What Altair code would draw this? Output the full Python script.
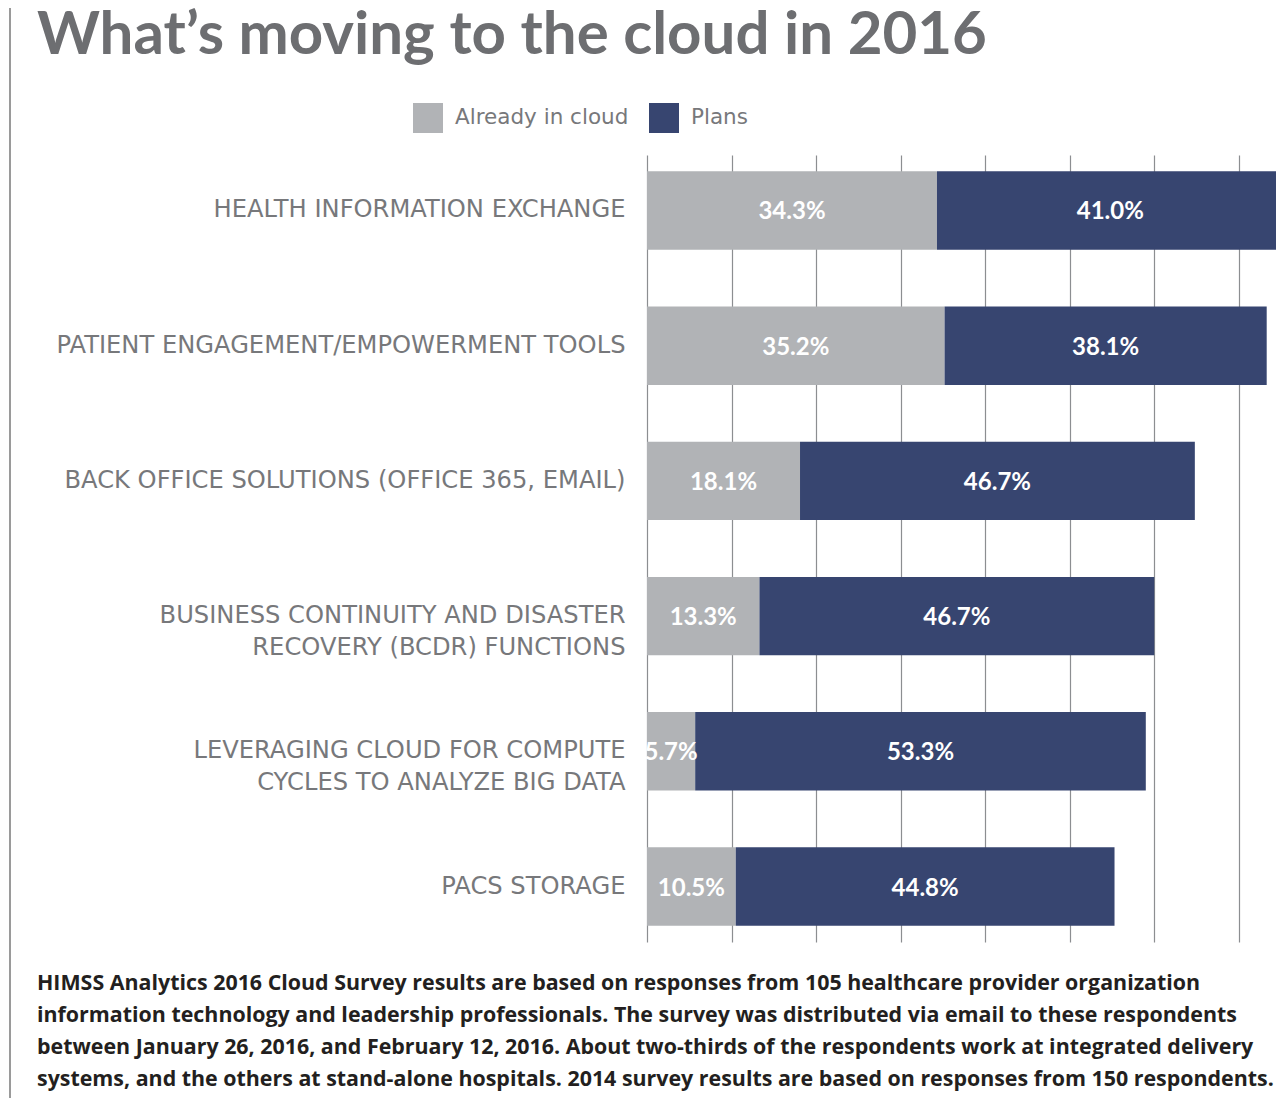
import altair as alt
import pandas as pd

categories = [
    "HEALTH INFORMATION EXCHANGE",
    "PATIENT ENGAGEMENT/EMPOWERMENT TOOLS",
    "BACK OFFICE SOLUTIONS (OFFICE 365, EMAIL)",
    "BUSINESS CONTINUITY AND DISASTER|RECOVERY (BCDR) FUNCTIONS",
    "LEVERAGING CLOUD FOR COMPUTE|CYCLES TO ANALYZE BIG DATA",
    "PACS STORAGE",
]
already = [34.3, 35.2, 18.1, 13.3, 5.7, 10.5]
plans = [41.0, 38.1, 46.7, 46.7, 53.3, 44.8]
series_names = ["Already in cloud", "Plans"]
series_colors = ["#b1b3b6", "#374570"]
grid_values = [0, 10, 20, 30, 40, 50, 60, 70]
title_text = ["What’s moving to the cloud in 2016"]
footnote_lines = [
    "HIMSS Analytics 2016 Cloud Survey results are based on responses from 105 healthcare provider organization",
    "information technology and leadership professionals. The survey was distributed via email to these respondents",
    "between January 26, 2016, and February 12, 2016. About two-thirds of the respondents work at integrated delivery",
    "systems, and the others at stand-alone hospitals. 2014 survey results are based on responses from 150 respondents.",
]

rows = []
for i, c in enumerate(categories):
    rows.append({"category": c, "series": series_names[0], "ord": 0, "value": already[i]})
    rows.append({"category": c, "series": series_names[1], "ord": 1, "value": plans[i]})
df = pd.DataFrame(rows)

W, H = 629, 787
PAD = {"left": 639, "top": 147, "right": 0, "bottom": 156}
GRAY = "#6d6e71"
LABEL_FONT = "DejaVu Sans"

y_enc = alt.Y(
    "category:N",
    sort=categories,
    title=None,
    scale=alt.Scale(paddingInner=0.42, paddingOuter=0.12),
    axis=alt.Axis(
        labelExpr="split(datum.label, '|')",
        labelFont=LABEL_FONT,
        labelFontSize=24.2,
        labelColor="#77787b",
        labelPadding=22,
        labelLineHeight=32,
        labelLimit=800,
        ticks=False,
        domain=False,
    ),
)

base = alt.Chart(df).transform_stack(
    stack="value",
    groupby=["category"],
    as_=["x0", "x1"],
    sort=[alt.SortField("ord", "ascending")],
).transform_calculate(
    mid="(datum.x0 + datum.x1) / 2",
    lab="format(datum.value, '.1f') + '%'",
)

bars = base.mark_bar(clip=True).encode(
    x=alt.X(
        "x0:Q",
        scale=alt.Scale(domain=[0, 74.4], nice=False),
        axis=alt.Axis(
            values=grid_values,
            grid=True,
            gridColor="#8c8e91",
            gridWidth=1.2,
            labels=False,
            ticks=False,
            domain=False,
            title=None,
        ),
    ),
    x2="x1:Q",
    y=y_enc,
    color=alt.Color(
        "series:N",
        scale=alt.Scale(domain=series_names, range=series_colors),
        legend=alt.Legend(
            orient="none",
            legendX=-234,
            legendY=-52,
            direction="horizontal",
            title=None,
            symbolType="square",
            symbolSize=900,
            symbolStrokeWidth=0,
            symbolOpacity=1,
            labelFont=LABEL_FONT,
            labelFontSize=21.5,
            labelColor="#77787b",
            labelOffset=12,
            labelLimit=400,
            columnPadding=20,
            padding=0,
        ),
    ),
)

labels = base.mark_text(
    font="Lato", fontWeight="bold", fontSize=24, color="white", dy=2
).encode(
    x=alt.X("mid:Q"),
    y=alt.Y("category:N", sort=categories),
    text="lab:N",
)

title_mark = alt.Chart(pd.DataFrame({"t": title_text})).mark_text(
    align="left", baseline="alphabetic", font="Lato", fontWeight="bold",
    fontSize=60, color=GRAY,
).encode(x=alt.value(-610), y=alt.value(-101), text="t:N")

foot_mark = alt.Chart(pd.DataFrame({"t": ["\n".join(footnote_lines)]})).mark_text(
    align="left", baseline="alphabetic", lineBreak="\n", lineHeight=32,
    font="Open Sans", fontWeight="bold", fontSize=21.4, color="#231f20",
).encode(x=alt.value(-610), y=alt.value(835), text="t:N")

left_rule = alt.Chart(pd.DataFrame({"a": [0]})).mark_rule(
    color="#9a9a9a", strokeWidth=2
).encode(x=alt.value(-637), y=alt.value(-147), y2=alt.value(H + 156))

chart = alt.layer(left_rule, bars, labels, title_mark, foot_mark).properties(
    width=W, height=H, padding=PAD, autosize="none"
).configure_view(stroke=None)

chart.save("out.html", embed_options={"renderer": "svg", "actions": False})
